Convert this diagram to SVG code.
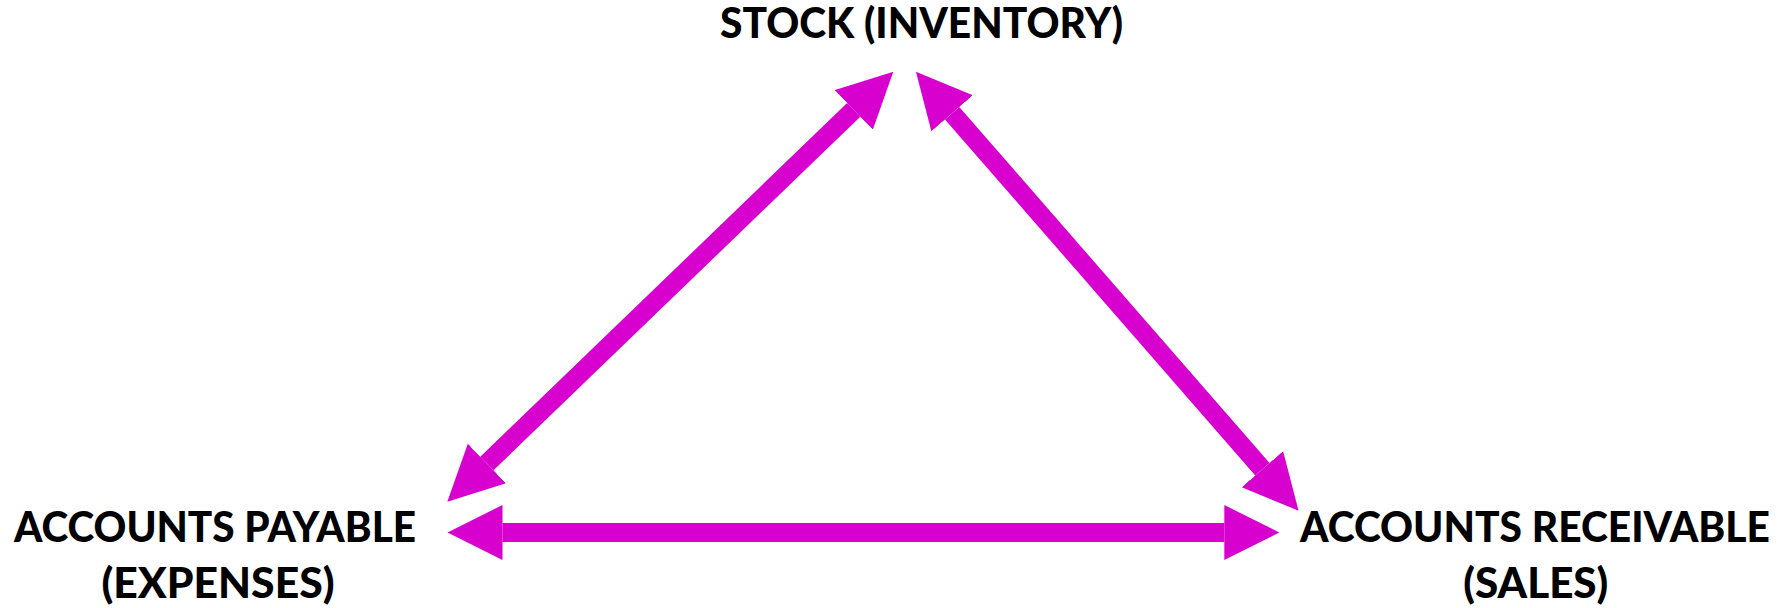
<svg xmlns="http://www.w3.org/2000/svg" width="1791" height="608" viewBox="0 0 1791 608">
<style>
.lbl{font-family:Lato,"Open Sans","Liberation Sans",sans-serif;font-weight:900;font-size:42px;fill:#000;text-anchor:middle}
.conn{stroke:#D800CF;stroke-width:19;fill:none}
</style>
<defs>
<marker id="head" markerUnits="userSpaceOnUse" viewBox="0 -28 56 56" refX="0" refY="0" markerWidth="56" markerHeight="56" orient="auto-start-reverse">
<path d="M0,-27.5 L55,0 L0,27.5 Z" fill="#D800CF"/>
</marker>
</defs>
<rect width="1791" height="608" fill="#fff"/>
<g id="connectors">
<line class="conn" x1="853.7" y1="109.9" x2="486.9" y2="463.5" marker-start="url(#head)" marker-end="url(#head)"/>
<line class="conn" x1="952.1" y1="113.2" x2="1262.4" y2="469.2" marker-start="url(#head)" marker-end="url(#head)"/>
<line class="conn" x1="502.5" y1="532.5" x2="1224.3" y2="532.5" marker-start="url(#head)" marker-end="url(#head)"/>
</g>
<g id="stock">
<text class="lbl" x="921.5" y="38" textLength="403" lengthAdjust="spacingAndGlyphs">STOCK (INVENTORY)</text>
</g>
<g id="payable">
<text class="lbl" x="215" y="541.5" textLength="402" lengthAdjust="spacingAndGlyphs">ACCOUNTS PAYABLE</text>
<text class="lbl" x="218" y="597.5" textLength="233" lengthAdjust="spacingAndGlyphs">(EXPENSES)</text>
</g>
<g id="receivable">
<text class="lbl" x="1535" y="541.5" textLength="470" lengthAdjust="spacingAndGlyphs">ACCOUNTS RECEIVABLE</text>
<text class="lbl" x="1535.8" y="597.5" textLength="145" lengthAdjust="spacingAndGlyphs">(SALES)</text>
</g>
</svg>
